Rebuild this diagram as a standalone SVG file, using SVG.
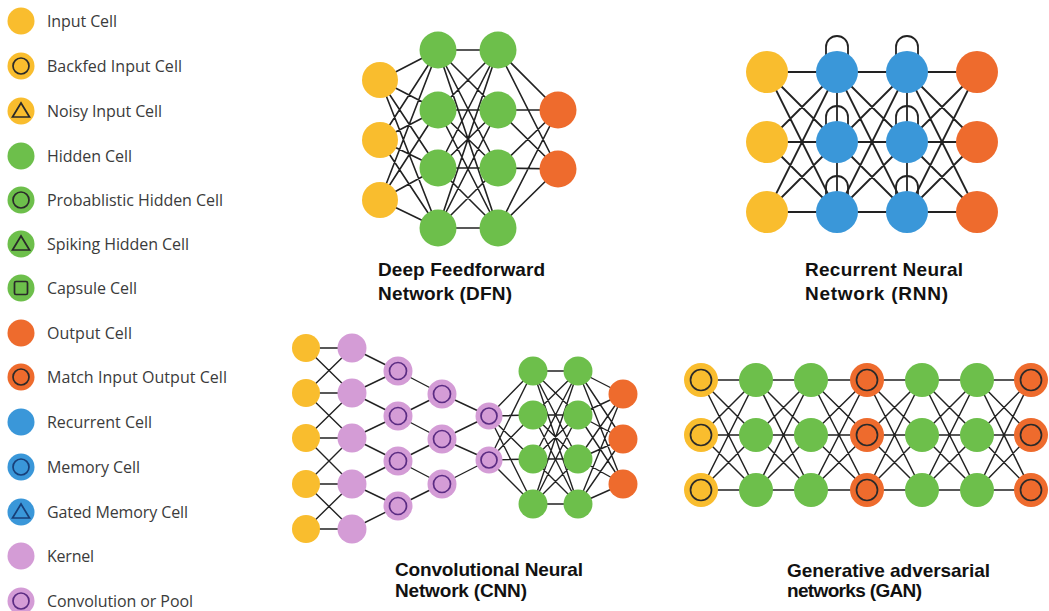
<svg xmlns="http://www.w3.org/2000/svg" width="1049" height="611" viewBox="0 0 1049 611">
  <style>
    .in { fill: #f9bd2e; }
    .hid { fill: #6dbf4b; }
    .out { fill: #ee6b2d; }
    .rec { fill: #3a97d9; }
    .ker { fill: #d49cd6; }
    .ring { fill: none; stroke: #2a2a2a; stroke-width: 1.7; }
    .ring-b { fill: none; stroke: #183f78; stroke-width: 1.7; }
    .ring-p { fill: none; stroke: #5b2c83; stroke-width: 1.7; }
    .edge { fill: none; stroke: #222; stroke-linecap: round; }
    .legend-text { font-family: "Open Sans", "Liberation Sans", sans-serif; font-size: 16px; fill: #3b3b3b; }
    .title { font-family: "Liberation Sans", Arial, sans-serif; font-size: 19px; font-weight: bold; fill: #111; }
  </style>
  <rect width="1049" height="611" fill="#ffffff"/>

  <!-- Legend -->
  <g id="legend">
    <g id="legend-input"><circle class="in" cx="21" cy="21" r="13.5"/><text class="legend-text" x="47" y="27" textLength="70">Input Cell</text></g>
    <g id="legend-backfed"><circle class="in" cx="21" cy="66" r="13.5"/><circle class="ring" cx="21" cy="66" r="8"/><text class="legend-text" x="47" y="72" textLength="135">Backfed Input Cell</text></g>
    <g id="legend-noisy"><circle class="in" cx="21" cy="111" r="13.5"/><path class="ring" d="M12.5 117L29.5 117L21 103Z"/><text class="legend-text" x="47" y="117" textLength="115">Noisy Input Cell</text></g>
    <g id="legend-hidden"><circle class="hid" cx="21" cy="156" r="13.5"/><text class="legend-text" x="47" y="162" textLength="85">Hidden Cell</text></g>
    <g id="legend-prob"><circle class="hid" cx="21" cy="200" r="13.5"/><circle class="ring" cx="21" cy="200" r="8"/><text class="legend-text" x="47" y="206" textLength="176">Probablistic Hidden Cell</text></g>
    <g id="legend-spiking"><circle class="hid" cx="21" cy="244" r="13.5"/><path class="ring" d="M12.5 250L29.5 250L21 236Z"/><text class="legend-text" x="47" y="250" textLength="142">Spiking Hidden Cell</text></g>
    <g id="legend-capsule"><circle class="hid" cx="21" cy="288" r="13.5"/><rect class="ring" x="14.5" y="281.5" width="13" height="13" rx="1.5"/><text class="legend-text" x="47" y="294" textLength="90">Capsule Cell</text></g>
    <g id="legend-output"><circle class="out" cx="21" cy="333" r="13.5"/><text class="legend-text" x="47" y="339" textLength="85">Output Cell</text></g>
    <g id="legend-match"><circle class="out" cx="21" cy="377" r="13.5"/><circle class="ring" cx="21" cy="377" r="8"/><text class="legend-text" x="47" y="383" textLength="180">Match Input Output Cell</text></g>
    <g id="legend-recurrent"><circle class="rec" cx="21" cy="422" r="13.5"/><text class="legend-text" x="47" y="428" textLength="105">Recurrent Cell</text></g>
    <g id="legend-memory"><circle class="rec" cx="21" cy="467" r="13.5"/><circle class="ring-b" cx="21" cy="467" r="8"/><text class="legend-text" x="47" y="473" textLength="93">Memory Cell</text></g>
    <g id="legend-gated"><circle class="rec" cx="21" cy="512" r="13.5"/><path class="ring-b" d="M12.5 518L29.5 518L21 504Z"/><text class="legend-text" x="47" y="518" textLength="141">Gated Memory Cell</text></g>
    <g id="legend-kernel"><circle class="ker" cx="21" cy="556" r="13.5"/><text class="legend-text" x="47" y="562" textLength="47">Kernel</text></g>
    <g id="legend-conv"><circle class="ker" cx="21" cy="601" r="13.5"/><circle class="ring-p" cx="21" cy="601" r="8"/><text class="legend-text" x="47" y="607" textLength="146">Convolution or Pool</text></g>
  </g>

  <!-- Connectors -->
  <g id="connectors">
    <!-- Deep feedforward -->
    <path class="edge" stroke-width="1.6" d="M380 80L438 50M380 80L438 110M380 80L438 168M380 80L438 228M380 140L438 50M380 140L438 110M380 140L438 168M380 140L438 228M380 200L438 50M380 200L438 110M380 200L438 168M380 200L438 228
      M438 50L498 50M438 50L498 110M438 50L498 168M438 50L498 228M438 110L498 50M438 110L498 110M438 110L498 168M438 110L498 228M438 168L498 50M438 168L498 110M438 168L498 168M438 168L498 228M438 228L498 50M438 228L498 110M438 228L498 168M438 228L498 228
      M498 50L558 110M498 50L558 169M498 110L558 110M498 110L558 169M498 168L558 110M498 168L558 169M498 228L558 110M498 228L558 169"/>
    <!-- Recurrent -->
    <path class="edge" stroke-width="1.8" d="M767 72L837 72M767 72L837 142M767 72L837 212M767 142L837 72M767 142L837 142M767 142L837 212M767 212L837 72M767 212L837 142M767 212L837 212
      M837 72L907 72M837 72L907 142M837 72L907 212M837 142L907 72M837 142L907 142M837 142L907 212M837 212L907 72M837 212L907 142M837 212L907 212
      M907 72L977 72M907 72L977 142M907 72L977 212M907 142L977 72M907 142L977 142M907 142L977 212M907 212L977 72M907 212L977 142M907 212L977 212
      M837 72V212M907 72V212"/>
    <path class="edge" stroke-width="1.8" d="M826 58V47A11 11 0 0 1 848 47V58M826 128V117A11 11 0 0 1 848 117V128M826 198V187A11 11 0 0 1 848 187V198
      M896 58V47A11 11 0 0 1 918 47V58M896 128V117A11 11 0 0 1 918 117V128M896 198V187A11 11 0 0 1 918 187V198"/>
    <!-- Convolutional -->
    <path class="edge" stroke-width="1.4" d="M306 348L352 348M306 348L352 393M306 393L352 348M306 393L352 393M306 393L352 438M306 438L352 393M306 438L352 438M306 438L352 484M306 484L352 438M306 484L352 484M306 484L352 529M306 529L352 484M306 529L352 529
      M352 348L398 371M352 393L398 371M352 393L398 416M352 438L398 416M352 438L398 461M352 484L398 461M352 484L398 506M352 529L398 506
      M398 371L442 394M398 416L442 394M398 416L442 439M398 461L442 439M398 461L442 484M398 506L442 484
      M442 394L489 416M442 439L489 416M442 439L489 460M442 484L489 460
      M489 416L533 371M489 416L533 415M489 416L533 459M489 416L533 504M489 460L533 371M489 460L533 415M489 460L533 459M489 460L533 504
      M533 371L578 371M533 371L578 415M533 371L578 459M533 371L578 504M533 415L578 371M533 415L578 415M533 415L578 459M533 415L578 504M533 459L578 371M533 459L578 415M533 459L578 459M533 459L578 504M533 504L578 371M533 504L578 415M533 504L578 459M533 504L578 504
      M578 371L623 394M578 371L623 439M578 371L623 484M578 415L623 394M578 415L623 439M578 415L623 484M578 459L623 394M578 459L623 439M578 459L623 484M578 504L623 394M578 504L623 439M578 504L623 484"/>
    <!-- Generative adversarial -->
    <path class="edge" stroke-width="1.5" d="M701 380L756 380M701 380L756 435M701 380L756 490M701 435L756 380M701 435L756 435M701 435L756 490M701 490L756 380M701 490L756 435M701 490L756 490
      M756 380L811 380M756 380L811 435M756 380L811 490M756 435L811 380M756 435L811 435M756 435L811 490M756 490L811 380M756 490L811 435M756 490L811 490
      M811 380L867 380M811 380L867 435M811 380L867 490M811 435L867 380M811 435L867 435M811 435L867 490M811 490L867 380M811 490L867 435M811 490L867 490
      M867 380L922 380M867 380L922 435M867 380L922 490M867 435L922 380M867 435L922 435M867 435L922 490M867 490L922 380M867 490L922 435M867 490L922 490
      M922 380L977 380M922 380L977 435M922 380L977 490M922 435L977 380M922 435L977 435M922 435L977 490M922 490L977 380M922 490L977 435M922 490L977 490
      M977 380L1031 380M977 380L1031 435M977 380L1031 490M977 435L1031 380M977 435L1031 435M977 435L1031 490M977 490L1031 380M977 490L1031 435M977 490L1031 490"/>
  </g>

  <!-- Deep feedforward network -->
  <g id="dfn">
    <g id="dfn-in1"><circle class="in" cx="380" cy="80" r="18"/></g>
    <g id="dfn-in2"><circle class="in" cx="380" cy="140" r="18"/></g>
    <g id="dfn-in3"><circle class="in" cx="380" cy="200" r="18"/></g>
    <g id="dfn-h11"><circle class="hid" cx="438" cy="50" r="18.5"/></g>
    <g id="dfn-h12"><circle class="hid" cx="438" cy="110" r="18.5"/></g>
    <g id="dfn-h13"><circle class="hid" cx="438" cy="168" r="18.5"/></g>
    <g id="dfn-h14"><circle class="hid" cx="438" cy="228" r="18.5"/></g>
    <g id="dfn-h21"><circle class="hid" cx="498" cy="50" r="18.5"/></g>
    <g id="dfn-h22"><circle class="hid" cx="498" cy="110" r="18.5"/></g>
    <g id="dfn-h23"><circle class="hid" cx="498" cy="168" r="18.5"/></g>
    <g id="dfn-h24"><circle class="hid" cx="498" cy="228" r="18.5"/></g>
    <g id="dfn-out1"><circle class="out" cx="558" cy="110" r="18.5"/></g>
    <g id="dfn-out2"><circle class="out" cx="558" cy="169" r="18.5"/></g>
    <text class="title" x="378" y="276" textLength="167">Deep Feedforward</text>
    <text class="title" x="378" y="300" textLength="134">Network (DFN)</text>
  </g>

  <!-- Recurrent neural network -->
  <g id="rnn">
    <g id="rnn-in1"><circle class="in" cx="767" cy="72" r="21"/></g>
    <g id="rnn-in2"><circle class="in" cx="767" cy="142" r="21"/></g>
    <g id="rnn-in3"><circle class="in" cx="767" cy="212" r="21"/></g>
    <g id="rnn-r11"><circle class="rec" cx="837" cy="72" r="21"/></g>
    <g id="rnn-r12"><circle class="rec" cx="837" cy="142" r="21"/></g>
    <g id="rnn-r13"><circle class="rec" cx="837" cy="212" r="21"/></g>
    <g id="rnn-r21"><circle class="rec" cx="907" cy="72" r="21"/></g>
    <g id="rnn-r22"><circle class="rec" cx="907" cy="142" r="21"/></g>
    <g id="rnn-r23"><circle class="rec" cx="907" cy="212" r="21"/></g>
    <g id="rnn-out1"><circle class="out" cx="977" cy="72" r="21"/></g>
    <g id="rnn-out2"><circle class="out" cx="977" cy="142" r="21"/></g>
    <g id="rnn-out3"><circle class="out" cx="977" cy="212" r="21"/></g>
    <text class="title" x="805" y="276" textLength="158">Recurrent Neural</text>
    <text class="title" x="805" y="300" textLength="143">Network (RNN)</text>
  </g>

  <!-- Convolutional neural network -->
  <g id="cnn">
    <g id="cnn-in1"><circle class="in" cx="306" cy="348" r="14"/></g>
    <g id="cnn-in2"><circle class="in" cx="306" cy="393" r="14"/></g>
    <g id="cnn-in3"><circle class="in" cx="306" cy="438" r="14"/></g>
    <g id="cnn-in4"><circle class="in" cx="306" cy="484" r="14"/></g>
    <g id="cnn-in5"><circle class="in" cx="306" cy="529" r="14"/></g>
    <g id="cnn-k1"><circle class="ker" cx="352" cy="348" r="14.5"/></g>
    <g id="cnn-k2"><circle class="ker" cx="352" cy="393" r="14.5"/></g>
    <g id="cnn-k3"><circle class="ker" cx="352" cy="438" r="14.5"/></g>
    <g id="cnn-k4"><circle class="ker" cx="352" cy="484" r="14.5"/></g>
    <g id="cnn-k5"><circle class="ker" cx="352" cy="529" r="14.5"/></g>
    <g id="cnn-c11"><circle class="ker" cx="398" cy="371" r="14.5"/><circle class="ring-p" cx="398" cy="371" r="8.5"/></g>
    <g id="cnn-c12"><circle class="ker" cx="398" cy="416" r="14.5"/><circle class="ring-p" cx="398" cy="416" r="8.5"/></g>
    <g id="cnn-c13"><circle class="ker" cx="398" cy="461" r="14.5"/><circle class="ring-p" cx="398" cy="461" r="8.5"/></g>
    <g id="cnn-c14"><circle class="ker" cx="398" cy="506" r="14.5"/><circle class="ring-p" cx="398" cy="506" r="8.5"/></g>
    <g id="cnn-c21"><circle class="ker" cx="442" cy="394" r="14.5"/><circle class="ring-p" cx="442" cy="394" r="8.5"/></g>
    <g id="cnn-c22"><circle class="ker" cx="442" cy="439" r="14.5"/><circle class="ring-p" cx="442" cy="439" r="8.5"/></g>
    <g id="cnn-c23"><circle class="ker" cx="442" cy="484" r="14.5"/><circle class="ring-p" cx="442" cy="484" r="8.5"/></g>
    <g id="cnn-c31"><circle class="ker" cx="489" cy="416" r="13.5"/><circle class="ring-p" cx="489" cy="416" r="8"/></g>
    <g id="cnn-c32"><circle class="ker" cx="489" cy="460" r="13.5"/><circle class="ring-p" cx="489" cy="460" r="8"/></g>
    <g id="cnn-h11"><circle class="hid" cx="533" cy="371" r="14.5"/></g>
    <g id="cnn-h12"><circle class="hid" cx="533" cy="415" r="14.5"/></g>
    <g id="cnn-h13"><circle class="hid" cx="533" cy="459" r="14.5"/></g>
    <g id="cnn-h14"><circle class="hid" cx="533" cy="504" r="14.5"/></g>
    <g id="cnn-h21"><circle class="hid" cx="578" cy="371" r="14.5"/></g>
    <g id="cnn-h22"><circle class="hid" cx="578" cy="415" r="14.5"/></g>
    <g id="cnn-h23"><circle class="hid" cx="578" cy="459" r="14.5"/></g>
    <g id="cnn-h24"><circle class="hid" cx="578" cy="504" r="14.5"/></g>
    <g id="cnn-out1"><circle class="out" cx="623" cy="394" r="14.5"/></g>
    <g id="cnn-out2"><circle class="out" cx="623" cy="439" r="14.5"/></g>
    <g id="cnn-out3"><circle class="out" cx="623" cy="484" r="14.5"/></g>
    <text class="title" x="395" y="576" textLength="188">Convolutional Neural</text>
    <text class="title" x="395" y="597" textLength="132">Network (CNN)</text>
  </g>

  <!-- Generative adversarial network -->
  <g id="gan">
    <g id="gan-in1"><circle class="in" cx="701" cy="380" r="17"/><circle class="ring" cx="701" cy="380" r="10.5"/></g>
    <g id="gan-in2"><circle class="in" cx="701" cy="435" r="17"/><circle class="ring" cx="701" cy="435" r="10.5"/></g>
    <g id="gan-in3"><circle class="in" cx="701" cy="490" r="17"/><circle class="ring" cx="701" cy="490" r="10.5"/></g>
    <g id="gan-g11"><circle class="hid" cx="756" cy="380" r="17"/></g>
    <g id="gan-g12"><circle class="hid" cx="756" cy="435" r="17"/></g>
    <g id="gan-g13"><circle class="hid" cx="756" cy="490" r="17"/></g>
    <g id="gan-g21"><circle class="hid" cx="811" cy="380" r="17"/></g>
    <g id="gan-g22"><circle class="hid" cx="811" cy="435" r="17"/></g>
    <g id="gan-g23"><circle class="hid" cx="811" cy="490" r="17"/></g>
    <g id="gan-m1"><circle class="out" cx="867" cy="380" r="17"/><circle class="ring" cx="867" cy="380" r="10.5"/></g>
    <g id="gan-m2"><circle class="out" cx="867" cy="435" r="17"/><circle class="ring" cx="867" cy="435" r="10.5"/></g>
    <g id="gan-m3"><circle class="out" cx="867" cy="490" r="17"/><circle class="ring" cx="867" cy="490" r="10.5"/></g>
    <g id="gan-d11"><circle class="hid" cx="922" cy="380" r="17"/></g>
    <g id="gan-d12"><circle class="hid" cx="922" cy="435" r="17"/></g>
    <g id="gan-d13"><circle class="hid" cx="922" cy="490" r="17"/></g>
    <g id="gan-d21"><circle class="hid" cx="977" cy="380" r="17"/></g>
    <g id="gan-d22"><circle class="hid" cx="977" cy="435" r="17"/></g>
    <g id="gan-d23"><circle class="hid" cx="977" cy="490" r="17"/></g>
    <g id="gan-out1"><circle class="out" cx="1031" cy="380" r="17"/><circle class="ring" cx="1031" cy="380" r="10.5"/></g>
    <g id="gan-out2"><circle class="out" cx="1031" cy="435" r="17"/><circle class="ring" cx="1031" cy="435" r="10.5"/></g>
    <g id="gan-out3"><circle class="out" cx="1031" cy="490" r="17"/><circle class="ring" cx="1031" cy="490" r="10.5"/></g>
    <text class="title" x="787" y="577" textLength="203">Generative adversarial</text>
    <text class="title" x="787" y="597" textLength="135">networks (GAN)</text>
  </g>
</svg>
